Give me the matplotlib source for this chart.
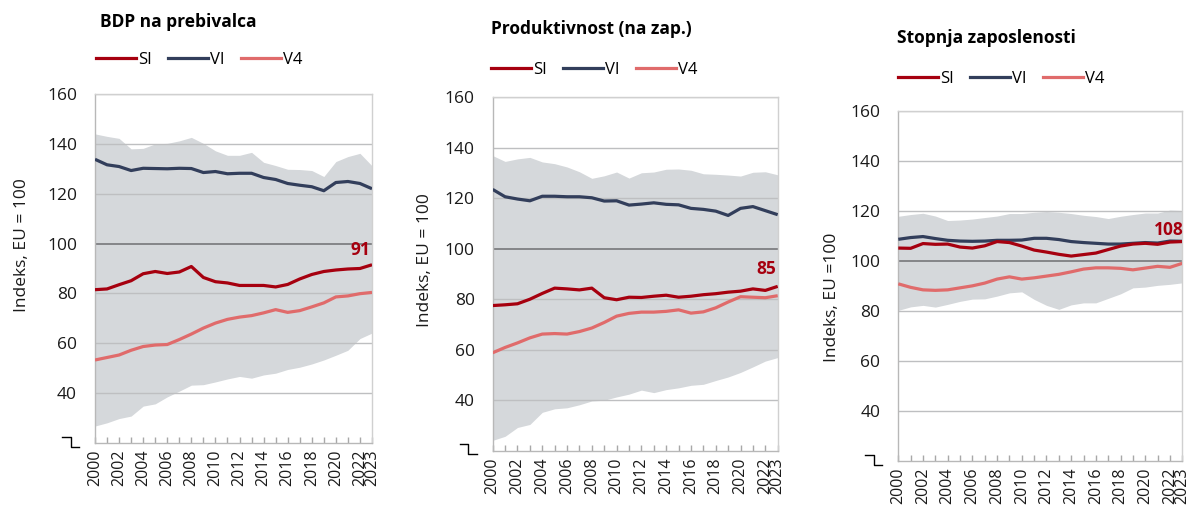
import matplotlib
matplotlib.use("Agg")
import matplotlib.pyplot as plt
from matplotlib.lines import Line2D

plt.rcParams['font.family'] = ['Open Sans', 'DejaVu Sans']

years = list(range(2000, 2024))

# Panel 1: BDP na prebivalca
gdp_si = [81.5, 81.8, 83.5, 85.1, 87.9, 88.8, 88.0, 88.6, 90.8, 86.4, 84.7, 84.2,
          83.2, 83.2, 83.2, 82.6, 83.6, 85.8, 87.6, 88.8, 89.4, 89.8, 90.0, 91.5]
gdp_vi = [133.8, 131.6, 130.9, 129.3, 130.2, 130.1, 130.0, 130.2, 130.1, 128.5, 128.9, 128.0,
          128.2, 128.2, 126.5, 125.7, 124.1, 123.4, 122.8, 121.2, 124.5, 124.9, 124.1, 122.0]
gdp_v4 = [53.3, 54.3, 55.3, 57.2, 58.7, 59.3, 59.5, 61.5, 63.7, 66.1, 68.1, 69.6,
          70.5, 71.1, 72.2, 73.5, 72.4, 73.1, 74.6, 76.2, 78.6, 79.0, 79.9, 80.4]
gdp_hi = [144.0, 143.0, 142.2, 138.0, 138.2, 140.0, 140.2, 141.2, 142.6, 140.2, 137.2, 135.4,
          135.4, 136.6, 132.6, 131.3, 129.8, 129.7, 129.3, 126.9, 132.9, 134.9, 136.2, 131.2]
gdp_lo = [26.8, 28.1, 29.8, 30.8, 34.8, 35.7, 38.5, 40.8, 43.2, 43.4, 44.5, 45.7,
          46.7, 46.0, 47.3, 48.0, 49.5, 50.4, 51.7, 53.3, 55.2, 57.2, 61.9, 64.1]

# Panel 2: Produktivnost (na zap.)
prod_si = [77.5, 77.8, 78.2, 80.0, 82.3, 84.4, 84.1, 83.7, 84.4, 80.6, 79.8, 80.8,
           80.7, 81.2, 81.6, 80.8, 81.2, 81.8, 82.2, 82.8, 83.2, 84.1, 83.5, 85.1]
prod_vi = [123.5, 120.6, 119.7, 119.0, 120.8, 120.8, 120.6, 120.6, 120.2, 118.9, 119.0, 117.3,
           117.7, 118.2, 117.6, 117.4, 116.0, 115.6, 114.9, 113.2, 116.0, 116.7, 115.1, 113.5]
prod_v4 = [58.8, 60.9, 62.7, 64.7, 66.2, 66.4, 66.2, 67.2, 68.6, 70.8, 73.3, 74.4,
           74.9, 74.9, 75.2, 75.8, 74.5, 75.0, 76.6, 78.9, 81.0, 80.8, 80.6, 81.4]
prod_hi = [136.9, 134.6, 135.6, 136.2, 134.4, 133.7, 132.4, 130.5, 127.9, 128.9, 130.4, 128.0,
           130.1, 130.4, 131.5, 131.6, 131.1, 129.7, 129.5, 129.2, 128.8, 130.3, 130.5, 129.3]
prod_lo = [24.1, 25.7, 29.2, 30.4, 35.2, 36.6, 37.0, 38.2, 39.7, 40.0, 41.3, 42.4,
           44.0, 43.0, 44.2, 44.9, 45.9, 46.3, 47.8, 49.2, 51.0, 53.2, 55.5, 56.9]

# Panel 3: Stopnja zaposlenosti
emp_si = [105.1, 105.0, 106.9, 106.6, 106.7, 105.5, 105.1, 106.0, 107.7, 107.3, 105.9, 104.3,
          103.5, 102.6, 101.9, 102.5, 103.1, 104.5, 105.9, 106.7, 107.0, 106.6, 107.5, 107.7]
emp_vi = [108.6, 109.3, 109.7, 108.9, 108.2, 107.9, 107.8, 107.9, 108.2, 108.2, 108.3, 109.0,
          109.0, 108.5, 107.7, 107.3, 107.0, 106.7, 106.7, 107.0, 107.3, 107.1, 107.9, 107.8]
emp_v4 = [90.8, 89.4, 88.4, 88.2, 88.4, 89.2, 90.0, 91.1, 92.7, 93.6, 92.7, 93.2,
          93.9, 94.6, 95.6, 96.7, 97.2, 97.2, 97.0, 96.4, 97.1, 97.8, 97.4, 99.0]
emp_hi = [117.8, 118.5, 119.0, 117.9, 116.1, 116.3, 116.7, 117.3, 117.9, 118.9, 118.9, 119.4,
          119.7, 119.4, 118.9, 118.2, 117.7, 116.9, 117.8, 118.5, 119.1, 119.1, 120.3, 120.1]
emp_lo = [80.2, 81.6, 82.2, 81.5, 82.6, 83.8, 84.7, 84.8, 85.9, 87.2, 87.6, 84.6,
          82.2, 80.6, 82.4, 83.2, 83.2, 85.0, 86.8, 89.2, 89.5, 90.2, 90.6, 91.2]

titles = ["BDP na prebivalca", "Produktivnost (na zap.)", "Stopnja zaposlenosti"]
ylabels = ["Indeks, EU = 100", "Indeks, EU = 100", "Indeks, EU =100"]
end_labels = ["91", "85", "108"]
end_label_y = [97.3, 92.1, 112.2]
series_names = ["SI", "VI", "V4"]
yticks = [40, 60, 80, 100, 120, 140, 160]
xtick_years = [2000, 2002, 2004, 2006, 2008, 2010, 2012, 2014, 2016, 2018, 2020, 2022, 2023]

C_SI = "#A6000F"
C_VI = "#323E5B"
C_V4 = "#E06B6B"
C_BAND = "#D5D8DB"
C_GRID = "#BEBFC1"

panels = [
    (gdp_si, gdp_vi, gdp_v4, gdp_hi, gdp_lo),
    (prod_si, prod_vi, prod_v4, prod_hi, prod_lo),
    (emp_si, emp_vi, emp_v4, emp_hi, emp_lo),
]

W, H = 1191, 505
fig = plt.figure(figsize=(W / 100, H / 100), dpi=100)

# layout in pixels: (left, right, top, bottom)
ax_px = [(95, 372, 94, 443), (492.7, 777.7, 97.3, 450.7), (898.3, 1182.3, 110.7, 461)]
title_px = [(100, 22), (491, 29), (897, 38)]
legend_px = [(96, 60), (491, 70), (898, 79)]
ylabel_px = [(22, 245), (425, 260), (832, 297)]

for i, (si, vi, v4, hi, lo) in enumerate(panels):
    l, r, t, b = ax_px[i]
    ax = fig.add_axes([l / W, 1 - b / H, (r - l) / W, (b - t) / H])
    ax.fill_between(years, lo, hi, color=C_BAND, lw=0, zorder=1)
    for yv in yticks:
        if yv == 100:
            ax.axhline(yv, color="#6E6F72", lw=1.1, zorder=2)
        else:
            ax.axhline(yv, color=C_GRID, lw=1.0, zorder=2)
    ax.plot(years, v4, color=C_V4, lw=2.3, zorder=3, solid_capstyle='butt')
    ax.plot(years, vi, color=C_VI, lw=2.3, zorder=4, solid_capstyle='butt')
    ax.plot(years, si, color=C_SI, lw=2.3, zorder=5, solid_capstyle='butt')
    ax.set_xlim(2000, 2023)
    ax.set_ylim(20, 160)
    ax.set_yticks(yticks)
    ax.set_yticklabels([str(v) for v in yticks], fontsize=12.5, color="#1a1a1a")
    ax.tick_params(axis='y', length=0, pad=13)
    ax.set_xticks(years, minor=True)
    ax.set_xticks(xtick_years)
    ax.set_xticklabels([str(y) for y in xtick_years], rotation=90, fontsize=11.5,
                       color="#1a1a1a", va='top', ha='center')
    ax.tick_params(axis='x', which='both', direction='in', length=4, color="#A8A8A8",
                   width=1.0, pad=5)
    for side in ["top", "right"]:
        ax.spines[side].set_color("#D0D0D0")
        ax.spines[side].set_linewidth(1.0)
    ax.spines["left"].set_color("#B8B8B8")
    ax.spines["bottom"].set_color("#B8B8B8")
    ax.spines["left"].set_linewidth(1.0)
    ax.spines["bottom"].set_linewidth(1.0)
    ax.text(2023.1 if i == 2 else 2022.9, end_label_y[i], end_labels[i], color=C_SI,
            fontsize=12.5, fontweight='bold', ha='right', va='center', zorder=6)

    # axis break symbol at lower left
    hgt = b - t
    wid = r - l
    x0 = (l - 33 - l) / wid
    x1 = (l - 24.5 - l) / wid
    x2 = (l - 16 - l) / wid
    y0 = 6.3 / hgt
    y1 = -3.7 / hgt
    ax.add_line(Line2D([x0, x1, x1, x2], [y0, y0, y1, y1], transform=ax.transAxes,
                       color="black", lw=1.0, clip_on=False))

    tx, ty = title_px[i]
    fig.text(tx / W, 1 - ty / H, titles[i], fontsize=12.5, fontweight='bold',
             ha='left', va='center', color="black")
    yx, yy = ylabel_px[i]
    fig.text(yx / W, 1 - yy / H, ylabels[i], fontsize=12.5, rotation=90,
             ha='center', va='center', color="#1a1a1a")
    handles = [Line2D([], [], color=c, lw=2.3) for c in (C_SI, C_VI, C_V4)]
    lx, ly = legend_px[i]
    fig.legend(handles, series_names, loc='center left',
               bbox_to_anchor=(lx / W, 1 - ly / H), ncol=3, frameon=False,
               fontsize=12, handlelength=2.4, handletextpad=0.1, columnspacing=1.0,
               borderaxespad=0, borderpad=0)

fig.savefig("out.png", dpi=100)
